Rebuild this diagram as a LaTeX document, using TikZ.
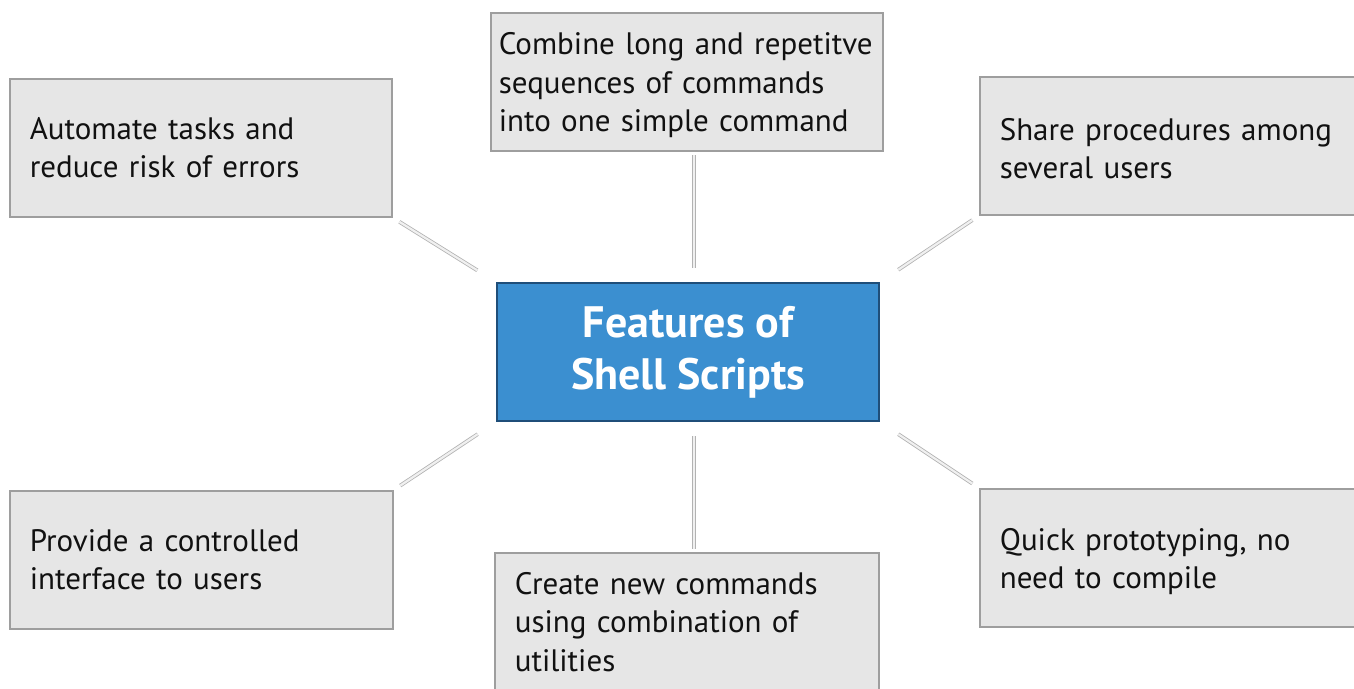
\documentclass[tikz,border=0pt]{standalone}
\usepackage{fontspec}
\setmainfont{PT Sans}
\definecolor{boxfill}{HTML}{E6E6E6}
\definecolor{boxline}{HTML}{9E9E9E}
\definecolor{cfill}{HTML}{3B8FD0}
\definecolor{cline}{HTML}{1F4E79}
\definecolor{txt}{HTML}{111111}
\begin{document}
\begin{tikzpicture}[x=1pt,y=-1pt,
  box/.style={draw=boxline, line width=1.6pt, fill=boxfill, rectangle, anchor=north west,
    minimum height=138pt, inner xsep=20pt, inner ysep=0pt, align=left, text=txt,
    font=\fontsize{31}{38.5}\selectfont},
  central/.style={draw=cline, line width=2pt, fill=cfill, rectangle, anchor=north west,
    minimum width=382pt, minimum height=138pt, align=center, text=white,
    font=\bfseries\fontsize{44}{52}\selectfont},
  conn/.style={draw=gray!60, line width=0.8pt, double=gray!12, double distance=2.2pt}]
\useasboundingbox (0,0) rectangle (1354,688);
\clip (0,0) rectangle (1354,688);
\node[central] (c) at (496,282) {Features of\\Shell Scripts};
\node[box, text width=342pt] (tl) at (9,78) {Automate tasks and\\reduce risk of errors};
\node[box, text width=376pt, inner xsep=8pt] (tc) at (490,12) {\rule{0pt}{29pt}\mbox{Combine long and repetitve}\\\mbox{sequences of commands}\\\mbox{into one simple command}};
\node[box, text width=342pt] (tr) at (979,76) {\rule{0pt}{28pt}Share procedures among\\several users};
\node[box, text width=343pt] (bl) at (9,490) {Provide a controlled\\interface to users};
\node[box, text width=344pt] (bc) at (494,552) {Create new commands\\using combination of\\utilities};
\node[box, text width=342pt] (br) at (979,488) {\rule{0pt}{30pt}Quick prototyping, no\\need to compile};
\draw[conn, shorten <=22pt, shorten >=8pt] (c.north west) -- (tl.south east);
\draw[conn, shorten <=22pt, shorten >=8pt] (c.north east) -- (tr.south west);
\draw[conn, shorten <=22pt, shorten >=8pt] (c.south west) -- (bl.north east);
\draw[conn, shorten <=22pt, shorten >=8pt] (c.south east) -- (br.north west);
\draw[conn, shorten <=14pt, shorten >=3pt] ([xshift=6pt]c.north) -- ([xshift=6pt]c.north |- tc.south);
\draw[conn, shorten <=14pt, shorten >=3pt] ([xshift=6pt]c.south) -- ([xshift=6pt]c.south |- bc.north);
\end{tikzpicture}
\end{document}
